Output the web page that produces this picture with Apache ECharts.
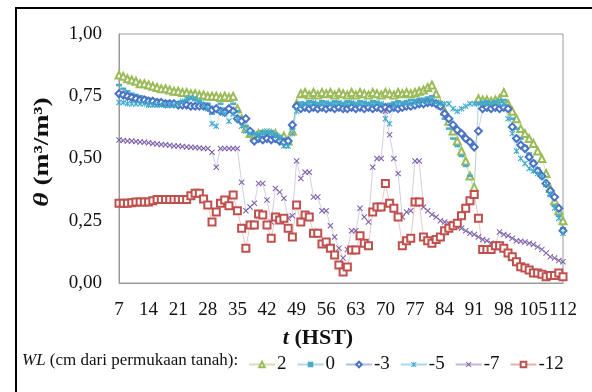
<!DOCTYPE html>
<html><head><meta charset="utf-8">
<script src="https://cdn.jsdelivr.net/npm/echarts@6/dist/echarts.min.js"></script>
<style>html,body{margin:0;padding:0;background:#fff}#c{width:592px;height:392px}</style>
</head><body><div id="c"></div>
<script>
const days = [7,8,9,10,11,12,13,14,15,16,17,18,19,20,21,22,23,24,25,26,27,28,29,30,31,32,33,34,35,36,37,38,39,40,41,42,43,44,45,46,47,48,49,50,51,52,53,54,55,56,57,58,59,60,61,62,63,64,65,66,67,68,69,70,71,72,73,74,75,76,77,78,79,80,81,82,83,84,85,86,87,88,89,90,91,92,93,94,95,96,97,98,99,100,101,102,103,104,105,106,107,108,109,110,111,112];
const yTickLabels = ['0,00','0,25','0,50','0,75','1,00'];
const seriesNames = ['2','0','-3','-5','-7','-12'];

const wl2 = [0.835,0.83,0.82,0.815,0.81,0.80,0.80,
 0.795,0.79,0.785,0.78,0.78,0.775,0.77,
 0.77,0.765,0.765,0.76,0.76,0.755,0.755,
 0.75,0.75,0.75,0.745,0.75,0.745,0.75,
 0.70,0.66,0.62,0.60,0.59,0.60,0.60,
 0.59,0.60,0.60,0.58,0.59,0.57,0.61,
 0.72,0.76,0.765,0.755,0.765,0.755,0.765,
 0.76,0.765,0.755,0.765,0.76,0.755,0.765,
 0.755,0.765,0.76,0.755,0.765,0.76,0.755,
 0.765,0.76,0.755,0.765,0.76,0.765,0.76,
 0.765,0.77,0.775,0.785,0.795,0.76,0.72,
 0.69,0.65,0.61,0.57,0.53,0.49,0.43,
 0.385,0.74,0.735,0.735,0.73,0.735,0.74,
 0.765,0.72,0.69,0.66,0.62,0.60,0.58,
 0.56,0.53,0.50,0.44,0.38,0.33,0.29,
 0.25];
const wl0 = [0.795,0.78,0.77,0.76,0.755,0.75,0.745,
 0.74,0.735,0.735,0.73,0.73,0.725,0.725,
 0.725,0.73,0.735,0.74,0.735,0.73,0.72,
 0.72,0.68,0.70,0.72,0.70,0.69,0.72,
 0.69,0.66,0.63,0.61,0.60,0.60,0.61,
 0.60,0.61,0.60,0.59,0.58,0.56,0.62,
 0.71,0.725,0.72,0.73,0.725,0.72,0.73,
 0.725,0.72,0.73,0.725,0.72,0.73,0.725,
 0.72,0.73,0.725,0.72,0.73,0.725,0.72,
 0.70,0.72,0.725,0.73,0.725,0.73,0.735,
 0.735,0.74,0.74,0.745,0.75,0.73,0.70,
 0.66,0.62,0.58,0.55,0.51,0.47,0.43,
 0.36,0.72,0.725,0.73,0.725,0.73,0.735,
 0.735,0.70,0.66,0.62,0.58,0.55,0.52,
 0.49,0.46,0.43,0.39,0.35,0.31,0.27,
 0.22];
const wlm3 = [0.76,0.755,0.75,0.745,0.74,0.735,0.735,
 0.73,0.73,0.725,0.725,0.72,0.72,0.72,
 0.715,0.715,0.715,0.71,0.71,0.71,0.71,
 0.705,0.695,0.70,0.69,0.685,0.70,0.69,
 0.66,0.65,0.66,0.61,0.57,0.58,0.575,
 0.58,0.575,0.58,0.57,0.565,0.57,0.635,
 0.71,0.70,0.705,0.70,0.705,0.70,0.705,
 0.70,0.705,0.70,0.705,0.70,0.70,0.705,
 0.70,0.705,0.70,0.705,0.70,0.705,0.70,
 0.705,0.70,0.705,0.70,0.705,0.71,0.71,
 0.715,0.72,0.72,0.725,0.725,0.72,0.71,
 0.68,0.66,0.635,0.615,0.60,0.58,0.566,
 0.546,0.61,0.70,0.705,0.70,0.705,0.70,
 0.705,0.70,0.627,0.58,0.554,0.54,0.506,
 0.48,0.45,0.43,0.40,0.37,0.345,0.30,
 0.21];
const wlm5 = [0.725,0.725,0.72,0.72,0.72,0.72,0.72,
 0.715,0.715,0.715,0.715,0.715,0.715,0.715,
 0.72,0.73,0.74,0.745,0.74,0.73,0.715,
 0.70,0.64,0.63,0.69,0.68,0.65,0.68,
 0.66,0.63,0.61,0.60,0.60,0.59,0.60,
 0.61,0.60,0.59,0.58,0.55,0.55,0.60,
 0.69,0.715,0.72,0.72,0.725,0.72,0.72,
 0.725,0.72,0.72,0.725,0.72,0.72,0.725,
 0.72,0.72,0.725,0.72,0.72,0.725,0.72,
 0.66,0.64,0.71,0.72,0.72,0.725,0.72,
 0.725,0.725,0.73,0.73,0.73,0.725,0.72,
 0.72,0.72,0.70,0.69,0.70,0.71,0.72,
 0.72,0.72,0.725,0.72,0.72,0.725,0.72,
 0.72,0.66,0.60,0.53,0.50,0.48,0.46,
 0.45,0.44,0.43,0.40,0.36,0.30,0.26,
 0.20];
const wlm7 = [0.574,0.572,0.57,0.57,0.568,0.566,0.565,
 0.563,0.56,0.558,0.556,0.555,0.553,0.55,
 0.55,0.548,0.546,0.545,0.544,0.542,0.54,
 0.54,0.525,0.465,0.54,0.54,0.54,0.54,
 0.54,0.405,0.29,0.305,0.32,0.40,0.40,
 0.333,0.245,0.38,0.365,0.34,0.26,0.27,
 0.49,0.42,0.445,0.445,0.345,0.345,0.29,
 0.29,0.23,0.185,0.14,0.10,0.135,0.21,
 0.21,0.30,0.265,0.245,0.465,0.50,0.50,
 0.69,0.595,0.50,0.44,0.265,0.285,0.29,
 0.49,0.49,0.305,0.29,0.275,0.265,0.25,
 0.245,0.24,0.23,0.225,0.22,0.21,0.20,
 0.195,0.185,0.175,0.17,0.16,0.155,0.205,
 0.195,0.19,0.18,0.17,0.168,0.165,0.16,
 0.155,0.145,0.135,0.12,0.105,0.10,0.09,
 0.085];
const wlm12 = [0.32,0.32,0.32,0.322,0.325,0.325,0.325,
 0.325,0.33,0.335,0.335,0.335,0.335,0.335,
 0.335,0.335,0.335,0.35,0.36,0.36,0.337,
 0.313,0.245,0.285,0.32,0.333,0.31,0.353,
 0.29,0.22,0.14,0.233,0.233,0.277,0.273,
 0.233,0.18,0.265,0.253,0.26,0.22,0.185,
 0.313,0.245,0.273,0.265,0.20,0.20,0.157,
 0.165,0.14,0.112,0.072,0.044,0.064,0.133,
 0.133,0.19,0.16,0.15,0.285,0.305,0.305,
 0.40,0.32,0.30,0.265,0.15,0.17,0.18,
 0.325,0.325,0.185,0.17,0.16,0.175,0.185,
 0.21,0.22,0.23,0.24,0.27,0.30,0.33,
 0.355,0.26,0.135,0.135,0.135,0.15,0.15,
 0.14,0.12,0.105,0.085,0.065,0.06,0.052,
 0.04,0.04,0.035,0.025,0.03,0.03,0.04,
 0.025];

const FONT = 'Liberation Serif';
const dashSym = 'path://M0,0L10,0L10,3L0,3Z';
const xSym = 'path://M0,1.2L1.2,0L5,3.8L8.8,0L10,1.2L6.2,5L10,8.8L8.8,10L5,6.2L1.2,10L0,8.8L3.8,5Z';
const starSym = 'path://M0,1.2L1.2,0L5,3.8L8.8,0L10,1.2L6.2,5L10,8.8L8.8,10L5,6.2L1.2,10L0,8.8L3.8,5Z M4.4,0L5.6,0L5.6,10L4.4,10Z';

function mk(name, data, color, symbol, size, filled) {
  return {
    name: name, type: 'line', data: data, symbol: symbol, symbolSize: size,
    showSymbol: true, showAllSymbol: true, animation: false,
    itemStyle: filled ? { color: color } : { color: color, borderColor: color, borderWidth: 1.1 },
    lineStyle: { color: color, width: 0.7, opacity: 0.45 },
    emphasis: { disabled: true }
  };
}

const chart = echarts.init(document.getElementById('c'), null, { renderer: 'canvas' });
chart.setOption({
  backgroundColor: '#ffffff',
  animation: false,
  grid: { left: 119, right: 29, top: 34, bottom: 109, show: true, borderColor: '#9a9a9a', borderWidth: 1, backgroundColor: 'transparent' },
  xAxis: {
    type: 'category', data: days, boundaryGap: false,
    axisLine: { lineStyle: { color: '#9a9a9a', width: 1 } },
    axisTick: { show: false },
    axisLabel: { interval: 6, color: '#111', fontFamily: FONT, fontSize: 19, margin: 18 },
    splitLine: { show: false }
  },
  yAxis: {
    type: 'value', min: 0, max: 1, interval: 0.25,
    axisLine: { show: true, lineStyle: { color: '#9a9a9a', width: 1 } },
    axisTick: { show: false },
    splitLine: { show: false },
    axisLabel: { color: '#111', fontFamily: FONT, fontSize: 19, margin: 17,
      formatter: function (v) { return yTickLabels[Math.round(v / 0.25)]; } }
  },
  legend: {
    left: 243, top: 350, itemWidth: 26, itemHeight: 7, itemGap: 10,
    textStyle: { fontFamily: FONT, fontSize: 19, color: '#111', padding: [0, 0, 0, -3] },
    data: seriesNames
  },
  graphic: [
    { type: 'rect', shape: { x: 16, y: 8, width: 620, height: 420 }, style: { fill: 'none', stroke: '#000', lineWidth: 2 }, silent: true },
    { type: 'text', x: 22, y: 352, style: { text: '{i|WL} (cm dari permukaan tanah):', fontFamily: FONT, fontSize: 17, fill: '#111',
      rich: { i: { fontFamily: FONT, fontSize: 17, fontStyle: 'italic', fill: '#111' } } } },
    { type: 'text', x: 318, y: 338, style: { text: '{i|t} (HST)', align: 'center', verticalAlign: 'middle',
      fontFamily: FONT, fontSize: 22, fontWeight: 'bold', fill: '#111',
      rich: { i: { fontFamily: FONT, fontSize: 22, fontWeight: 'bold', fontStyle: 'italic', fill: '#111' } } } },
    { type: 'text', x: 42, y: 152, rotation: Math.PI / 2, scaleX: 1.25,
      style: { text: '{i|θ} (m³/m³)', align: 'center', verticalAlign: 'middle',
      fontFamily: FONT, fontSize: 22, fontWeight: 'bold', fill: '#111',
      rich: { i: { fontFamily: FONT, fontSize: 22, fontWeight: 'bold', fontStyle: 'italic', fill: '#111' } } } }
  ],
  series: [
    mk(seriesNames[0], wl2, '#9BBB59', 'emptyTriangle', 7, false),
    mk(seriesNames[1], wl0, '#4BACC6', dashSym, [6, 2.5], true),
    mk(seriesNames[2], wlm3, '#4A72C4', 'emptyDiamond', 7, false),
    mk(seriesNames[3], wlm5, '#3FA8CC', starSym, 6, true),
    mk(seriesNames[4], wlm7, '#7B5FA8', xSym, 6, true),
    mk(seriesNames[5], wlm12, '#C0504D', 'emptyRect', 7, false)
  ]
});
</script></body></html>
